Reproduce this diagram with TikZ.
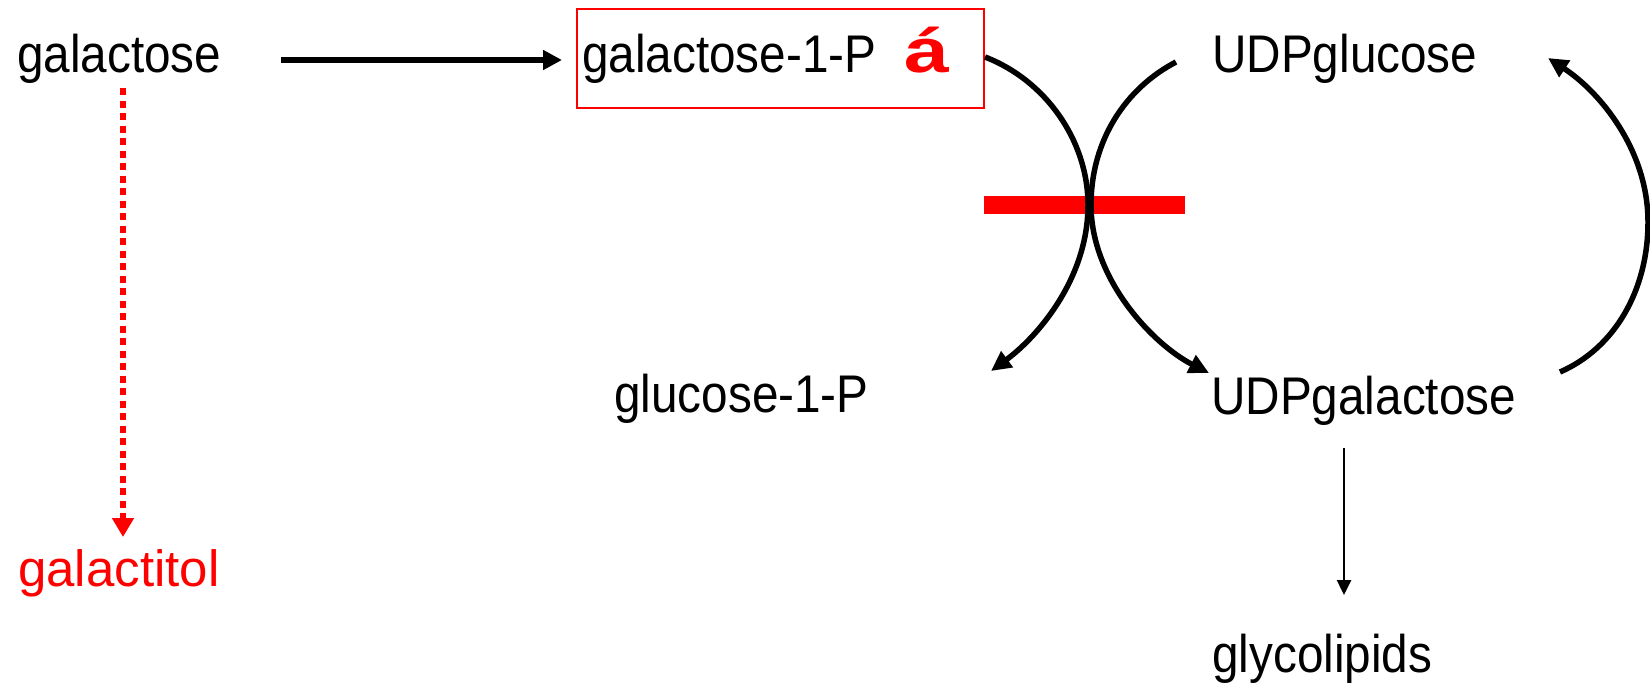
\documentclass[tikz,border=0pt]{standalone}
\usepackage{fontspec}
\setmainfont{Liberation Sans}
\newfontfamily\narrowfont{Liberation Sans}[FakeStretch=0.9]
\newfontfamily\widefont{Liberation Sans}[FakeStretch=1.3]
\usetikzlibrary{arrows.meta}
\begin{document}
\begin{tikzpicture}[x=1pt,y=-1pt,
  lbl/.style={inner sep=0pt, anchor=base west, font=\narrowfont\fontsize{53}{60}\selectfont},
  redlbl/.style={inner sep=0pt, anchor=base west, text=red, font=\fontsize{51}{60}\selectfont},
  thick arrow/.style={line width=5.5pt, -{Triangle[length=19pt,width=19pt]}},
  curved/.style={line width=5.5pt, -{Triangle[length=20pt,width=19pt]}}
]
\useasboundingbox (0,0) rectangle (1650,686);
% texts
\node[lbl] (gal) at (17,72) {galactose};
\node[lbl] (g1p) at (582,72) {galactose-1-P};
\node[inner sep=0pt, anchor=base west, text=red, font=\widefont\bfseries\fontsize{62}{70}\selectfont] (up) at (904,72) {á};
\node[draw=red, line width=1.5pt, minimum width=407pt, minimum height=99pt, inner sep=0pt] (box) at (780.5,58.5) {};
\node[lbl] (udpglc) at (1212,72) {UDPglucose};
\node[lbl] (glc1p) at (614,412) {glucose-1-P};
\node[lbl] (udpgal) at (1211,414) {UDPgalactose};
\node[lbl] (glyco) at (1212,672) {glycolipids};
\node[redlbl] (galol) at (18,586) {galactitol};
% block bar
\node[fill=red, minimum width=201pt, minimum height=18pt, inner sep=0pt] (block) at (1084.5,205) {};
% coordinates
\coordinate (a1s) at (281,60);
\coordinate (a1e) at (562,60);
\coordinate (ds) at (123,88);
\coordinate (de) at (123,537);
\coordinate (gs) at (1344,448);
\coordinate (ge) at (1344,595);
\coordinate (l1) at (985,57);
\coordinate (l2) at (991,371);
\coordinate (r1) at (1176,62);
\coordinate (r2) at (1209,373);
\coordinate (b1) at (1560,372);
\coordinate (b2) at (1548,58);
% connectors
\draw[thick arrow] (a1s) -- (a1e);
\draw[red, line width=6.5pt, dash pattern=on 7pt off 5.5pt, -{Triangle[length=19pt,width=21pt]}] (ds) -- (de);
\draw[line width=2.5pt, -{Triangle[length=15pt,width=14pt]}] (gs) -- (ge);
\draw[curved] (l1) .. controls (1045,80) and (1088,140) .. (1088,205) .. controls (1088,280) and (1036,338) .. (l2);
\draw[curved] (r1) .. controls (1126,88) and (1091,140) .. (1091,205) .. controls (1091,280) and (1154,345) .. (r2);
\draw[curved] (b1) .. controls (1615,348) and (1648,290) .. (1648,222) .. controls (1648,150) and (1600,92) .. (b2);
\end{tikzpicture}
\end{document}
